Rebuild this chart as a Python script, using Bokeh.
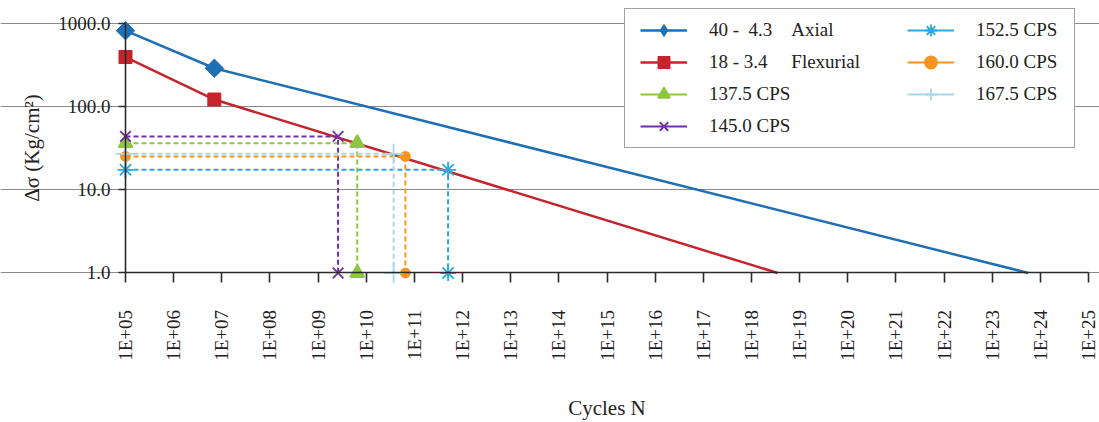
import math

import numpy as np
from bokeh.plotting import figure
from bokeh.models import FixedTicker, CustomJSTickFormatter, Legend, LegendItem
from bokeh.embed import file_html
from bokeh.resources import INLINE

# ---- S-N curves (cycles N, stress range in Kg/cm²) ----
axial_label = "40 -\u00a0\u00a04.3\u00a0\u00a0\u00a0\u00a0Axial"
axial_n = [1e5, 7.0e6, 5.6e23]
axial_s = [830.0, 293.0, 1.0]

flex_label = "18 - 3.4\u00a0\u00a0\u00a0\u00a0\u00a0Flexurial"
flex_n = [1e5, 7.0e6, 3.5e18]
flex_s = [400.0, 123.0, 1.0]

# ---- CPS cases: stress level and the life read on the flexural curve ----
cps_labels = ["137.5 CPS", "145.0 CPS", "152.5 CPS", "160.0 CPS", "167.5 CPS"]
cps_stress = [36.7, 44.2, 17.5, 25.4, 27.3]
cps_cycles = [6.5e9, 2.6e9, 5.0e11, 6.5e10, 3.7e10]

# ---- axis ticks ----
x_ticks = [1e5, 1e6, 1e7, 1e8, 1e9, 1e10, 1e11, 1e12, 1e13, 1e14, 1e15,
           1e16, 1e17, 1e18, 1e19, 1e20, 1e21, 1e22, 1e23, 1e24, 1e25]
x_tick_labels = ["1E+05", "1E+06", "1E+07", "1E+08", "1E+09", "1E+10", "1E+11",
                 "1E+12", "1E+13", "1E+14", "1E+15", "1E+16", "1E+17", "1E+18",
                 "1E+19", "1E+20", "1E+21", "1E+22", "1E+23", "1E+24", "1E+25"]
y_ticks = [1, 10, 100, 1000]
y_tick_labels = ["1.0", "10.0", "100.0", "1000.0"]

FONT = "Liberation Serif"
TEXT = "#222222"

AXIAL_C = "#1F6FB5"
FLEX_C = "#C5242D"
cps_colors = ["#8DC63F", "#7030A0", "#29ABE2", "#F7941D", "#A8D8EA"]
cps_markers = ["triangle", "x", "asterisk", "circle", "cross"]
cps_sizes = [14, 15, 16, 9, 20]

# The plotting frame fills the whole canvas; the axes are pinned to
# N = 1E+05 and Δσ = 1 so markers lying on them are drawn whole.
p = figure(width=1099, height=422, x_axis_type="log", y_axis_type="log",
           x_range=(253.6, 1.69e25), y_range=(0.0158, 1919),
           output_backend="svg", toolbar_location=None,
           min_border_left=0, min_border_right=0,
           min_border_top=0, min_border_bottom=0)
p.outline_line_color = None
p.background_fill_color = "white"
p.border_fill_color = "white"

label_js = """
const lt = Math.log10(tick);
for (let i = 0; i < tick_values.length; i++) {
  if (Math.abs(Math.log10(tick_values[i]) - lt) < 1e-6) return tick_labels[i];
}
return "";
"""
p.xaxis.ticker = FixedTicker(ticks=x_ticks, minor_ticks=[])
p.xaxis.formatter = CustomJSTickFormatter(
    args=dict(tick_values=x_ticks, tick_labels=x_tick_labels), code=label_js)
p.yaxis.ticker = FixedTicker(ticks=y_ticks, minor_ticks=[])
p.yaxis.formatter = CustomJSTickFormatter(
    args=dict(tick_values=y_ticks, tick_labels=y_tick_labels), code=label_js)

p.xaxis.fixed_location = y_ticks[0]
p.yaxis.fixed_location = x_ticks[0]
p.xaxis.bounds = (x_ticks[0], x_ticks[-1])
p.yaxis.bounds = (y_ticks[0], y_ticks[-1])

for ax in (p.xaxis, p.yaxis):
    ax.axis_line_color = "#2b2b2b"
    ax.axis_line_width = 1.6
    ax.major_tick_line_color = "#2b2b2b"
    ax.major_tick_line_width = 1.6
    ax.major_tick_in = 0
    ax.minor_tick_out = 0
    ax.minor_tick_in = 0
    ax.major_label_text_font = FONT
    ax.major_label_text_font_size = "19px"
    ax.major_label_text_color = TEXT
    ax.axis_label_text_font = FONT
    ax.axis_label_text_font_size = "21px"
    ax.axis_label_text_font_style = "normal"
    ax.axis_label_text_color = TEXT

p.xaxis.major_tick_out = 10
p.xaxis.major_label_orientation = math.pi / 2
p.xaxis.major_label_standoff = 27
p.xaxis.axis_label = "Cycles N"
p.xaxis.axis_label_standoff = 33

p.yaxis.major_tick_out = 7
p.yaxis.major_label_standoff = 8
p.yaxis.axis_label = "Δσ (Kg/cm²)"
p.yaxis.axis_label_standoff = 11

p.xgrid.visible = False
p.ygrid.grid_line_color = "#8a8a8a"
p.ygrid.grid_line_width = 1.2
p.ygrid.bounds = (x_ticks[0], x_ticks[-1])

# placeholder point used only to draw legend keys
KEY = dict(x=np.array([np.nan]), y=np.array([np.nan]))

items = []

# main S-N curves
p.line(axial_n, axial_s, line_color=AXIAL_C, line_width=2.5)
p.scatter(axial_n[:2], axial_s[:2], marker="square", angle=math.pi / 4,
          size=13, fill_color=AXIAL_C, line_color=AXIAL_C)
items.append(LegendItem(label=axial_label, renderers=[
    p.line(**KEY, line_color=AXIAL_C, line_width=2.5),
    p.scatter(**KEY, marker="diamond", size=10, fill_color=AXIAL_C, line_color=AXIAL_C),
]))

p.line(flex_n, flex_s, line_color=FLEX_C, line_width=2.5)
p.scatter(flex_n[:2], flex_s[:2], marker="square", size=13,
          fill_color=FLEX_C, line_color=FLEX_C)
items.append(LegendItem(label=flex_label, renderers=[
    p.line(**KEY, line_color=FLEX_C, line_width=2.5),
    p.scatter(**KEY, marker="square", size=10, fill_color=FLEX_C, line_color=FLEX_C),
]))

# CPS cases: dashed guides from the stress axis to the curve and down to N
for lbl, s, n, c, m, sz in zip(cps_labels, cps_stress, cps_cycles,
                               cps_colors, cps_markers, cps_sizes):
    xs = [1e5, n, n]
    ys = [s, s, 1.0]
    p.line(xs, ys, line_color=c, line_width=2, line_dash="5 3")
    p.scatter(xs, ys, marker=m, size=sz, fill_color=c, line_color=c, line_width=1.8)
    items.append(LegendItem(label=lbl, renderers=[
        p.line(**KEY, line_color=c, line_width=2),
        p.scatter(**KEY, marker=m, size=sz, fill_color=c, line_color=c, line_width=1.8),
    ]))


def styled_legend(its, loc):
    lg = Legend(items=its, location=loc, orientation="vertical")
    lg.label_text_font = FONT
    lg.label_text_font_size = "19px"
    lg.label_text_color = TEXT
    lg.glyph_width = 47
    lg.glyph_height = 30
    lg.label_height = 30
    lg.label_standoff = 22
    lg.spacing = 2
    lg.padding = 6
    lg.margin = 0
    lg.border_line_alpha = 0
    lg.background_fill_alpha = 0
    return lg


# white framed panel behind the two legend columns
blank = p.line([], [], line_alpha=0)
frame_box = Legend(items=[LegendItem(label="", renderers=[blank])], location=(624, 274))
frame_box.padding = 0
frame_box.margin = 0
frame_box.glyph_width = 1
frame_box.label_standoff = 0
frame_box.label_width = 448
frame_box.glyph_height = 138
frame_box.label_height = 138
frame_box.border_line_color = "#444444"
frame_box.border_line_width = 1.2
frame_box.background_fill_color = "white"
frame_box.background_fill_alpha = 1.0
p.add_layout(frame_box, "center")

p.add_layout(styled_legend(items[:4], (634, 275)), "center")
p.add_layout(styled_legend(items[4:], (901, 307)), "center")

open("out.html", "w").write(file_html(p, INLINE))
